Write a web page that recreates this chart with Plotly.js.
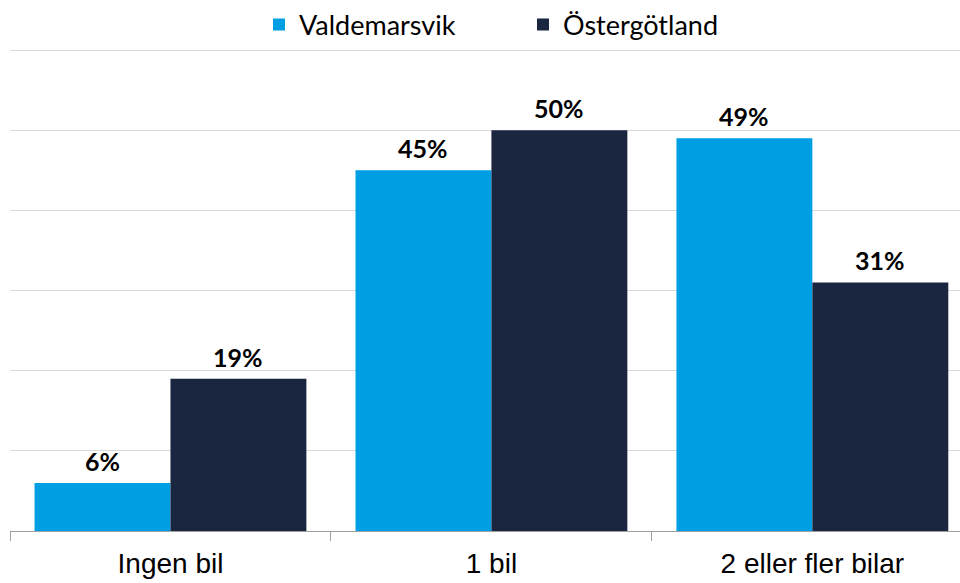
<!DOCTYPE html>
<html><head><meta charset="utf-8">
<script src="https://cdn.plot.ly/plotly-3.0.1.min.js"></script>
<style>html,body{margin:0;padding:0;background:#fff}#chart{width:960px;height:583px}</style>
</head><body><div id="chart"></div>
<script>
const categories = ["Ingen bil", "1 bil", "2 eller fler bilar"];
const valdemarsvik = [6, 45, 49];
const ostergotland = [19, 50, 31];
const seriesNames = ["Valdemarsvik", "Östergötland"];
const colors = ["#009FE3", "#1A2540"];

const data = [
  {type: "bar", name: seriesNames[0], x: categories, y: valdemarsvik, marker: {color: colors[0]}, legend: "legend", hoverinfo: "skip"},
  {type: "bar", name: seriesNames[1], x: categories, y: ostergotland, marker: {color: colors[1]}, legend: "legend2", hoverinfo: "skip"}
];

const labelFont = {family: "Lato, 'Open Sans', sans-serif", size: 25, color: "#000"};
const annotations = [];
[[valdemarsvik, -68], [ostergotland, 68]].forEach(([vals, dx]) => {
  vals.forEach((v, i) => annotations.push({
    xref: "x", yref: "y", x: categories[i], y: v, text: "<b>" + v + "%</b>",
    showarrow: false, xanchor: "center", yanchor: "bottom", xshift: dx, yshift: 5,
    font: labelFont
  }));
});

const legFont = {family: "Lato, 'Open Sans', sans-serif", size: 27, color: "#000"};
const layout = {
  width: 960, height: 583,
  margin: {l: 10, r: 0, t: 48, b: 52, autoexpand: false},
  barmode: "group", bargap: 0.153, bargroupgap: 0,
  paper_bgcolor: "#fff", plot_bgcolor: "#fff",
  showlegend: true,
  legend: {orientation: "h", xref: "paper", yref: "paper", x: 0.2621, xanchor: "left", y: 1.0476, yanchor: "middle", font: legFont},
  legend2: {orientation: "h", xref: "paper", yref: "paper", x: 0.5400, xanchor: "left", y: 1.0476, yanchor: "middle", font: legFont},
  annotations: annotations,
  xaxis: {type: "category", range: [-0.5, 2.46], tickson: "boundaries", ticks: "outside",
          ticklen: 9, tickcolor: "#a0a0a0", showline: true, linecolor: "#a0a0a0", linewidth: 1,
          tickfont: {family: "'Liberation Sans', Arial, sans-serif", size: 28, color: "#000"},
          ticklabelstandoff: 7, showgrid: false, fixedrange: true},
  yaxis: {range: [0, 60.25], tick0: 0, dtick: 10, showticklabels: false, showgrid: true,
          gridcolor: "#d9d9d9", gridwidth: 1, zeroline: false, showline: false, fixedrange: true}
};
Plotly.newPlot("chart", data, layout, {displayModeBar: false, staticPlot: true});
</script></body></html>
